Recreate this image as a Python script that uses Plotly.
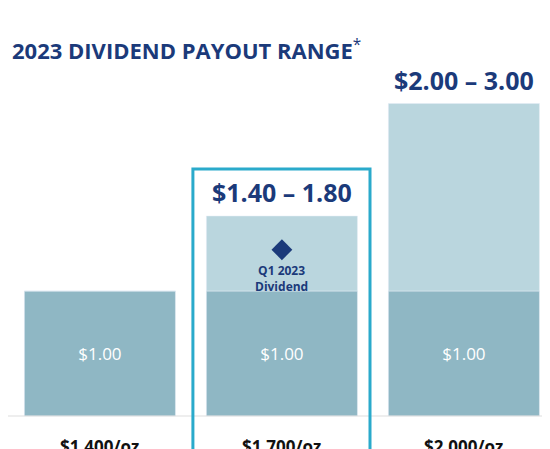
import plotly.graph_objects as go

categories = ["$1,400/oz", "$1,700/oz", "$2,000/oz"]
base_div = [1.00, 1.00, 1.00]
range_low = [None, 1.40, 2.00]
range_high = [None, 1.80, 3.00]
# midpoint of the payout range sets the light bar height
range_mid = [0, 1.60, 2.50]
q1_dividend = 1.33

x = [0, 1, 2]
extra = [m - b if m else 0 for m, b in zip(range_mid, base_div)]

fig = go.Figure()
fig.add_bar(x=x, y=base_div, marker_color="#8fb7c4", width=0.83,
            text=[f"${v:.2f}" for v in base_div], textposition="inside",
            insidetextanchor="middle", textfont=dict(color="white", size=17, family="Open Sans"),
            hoverinfo="skip")
fig.add_bar(x=x, y=extra, base=base_div, marker_color="#bad6de", width=0.83, hoverinfo="skip")
fig.add_scatter(x=[1], y=[q1_dividend], mode="markers",
                marker=dict(symbol="diamond", size=16, color="#1b3a7a"), hoverinfo="skip")
fig.add_annotation(x=1, y=q1_dividend - 0.08, text="<b>Q1 2023<br>Dividend</b>", showarrow=False,
                   yanchor="top", font=dict(size=12, color="#1b3a7a", family="Open Sans"))

for i in x:
    if range_low[i] is not None:
        fig.add_annotation(x=i, y=range_mid[i] + 0.04, yanchor="bottom", showarrow=False,
                           text=f"<b>${range_low[i]:.2f} – {range_high[i]:.2f}</b>",
                           font=dict(size=25, color="#1b3a7a", family="Open Sans"))
    fig.add_annotation(x=i, y=-0.24, showarrow=False, text=f"<b>{categories[i]}</b>",
                       font=dict(size=17, color="#111", family="Open Sans"))

fig.add_shape(type="line", x0=-0.6, x1=2.6, y0=0, y1=0, line=dict(color="#dddddd", width=1))
fig.add_shape(type="rect", x0=0.511, x1=1.484, y0=-0.376, y1=1.976,
              line=dict(color="#2aaacb", width=3))

fig.add_annotation(xref="paper", yref="paper", x=0.004, y=1 - 24 / 449, xanchor="left",
                   showarrow=False, text="<b>2023 DIVIDEND PAYOUT RANGE</b><sup>*</sup>",
                   font=dict(size=22, color="#1b3a7a", family="Open Sans"))

fig.update_layout(
    width=550, height=449, margin=dict(l=0, r=0, t=0, b=0),
    barmode="overlay", showlegend=False,
    paper_bgcolor="white", plot_bgcolor="white",
    xaxis=dict(range=[-0.505, 2.517], visible=False, fixedrange=True),
    yaxis=dict(range=[-0.328, 3.264], visible=False, fixedrange=True),
)
fig.write_html("out.html")
